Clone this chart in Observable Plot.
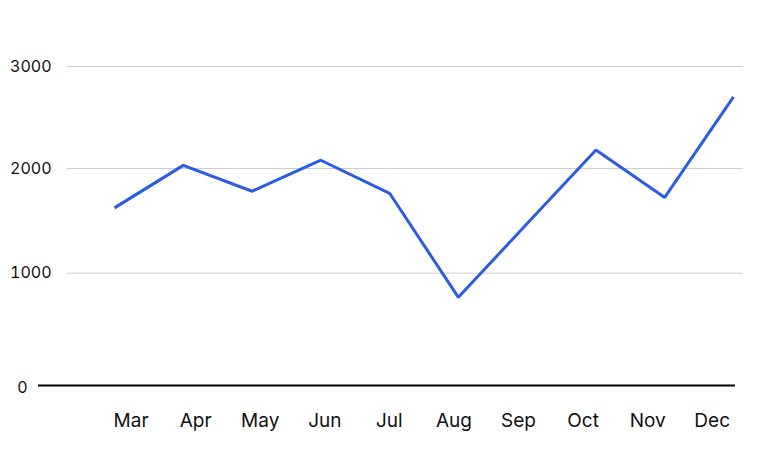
<!DOCTYPE html>
<html>
<head>
<meta charset="utf-8">
<script src="https://cdn.jsdelivr.net/npm/d3@7"></script>
<script src="https://cdn.jsdelivr.net/npm/@observablehq/plot@0.6"></script>
<style>
  html, body { margin: 0; padding: 0; background: #fff; }
  #wrap { position: relative; width: 762px; height: 474px; }
  #labels { position: absolute; left: 0; top: 400px; width: 762px; height: 40px; }
  svg { max-width: none !important; }
</style>
</head>
<body>
<div id="wrap"><div id="main"></div><div id="labels"></div></div>
<script>
const months = ["Mar", "Apr", "May", "Jun", "Jul", "Aug", "Sep", "Oct", "Nov", "Dec"];
const values = [1620, 2030, 1780, 2080, 1760, 775, 1470, 2180, 1720, 2700];
const gridTicks = [1000, 2000, 3000];
const zeroTick = [0];

const data = months.map((m, i) => ({month: m, value: values[i]}));
const font = "Inter, 'Noto Sans', sans-serif";

const main = Plot.plot({
  width: 762,
  height: 474,
  marginLeft: 114,
  marginRight: 29,
  marginTop: 66,
  marginBottom: 89,
  style: {fontFamily: font, fontSize: "16px", color: "#111", background: "transparent", overflow: "visible"},
  x: {type: "point", domain: months, padding: 0, round: false, axis: null},
  y: {type: "pow", exponent: 0.95, domain: [0, 3000], axis: null},
  marks: [
    Plot.ruleY(gridTicks, {stroke: "#cccccc", strokeWidth: 1, insetLeft: -47, insetRight: -10}),
    Plot.axisY({ticks: gridTicks, tickSize: 0, tickPadding: 63, tickFormat: d => String(d), fontSize: 16, fill: "#111", label: null}),
    Plot.axisY({ticks: zeroTick, tickSize: 0, tickPadding: 87, tickFormat: d => String(d), fontSize: 16, fill: "#111", dy: 2, label: null}),
    Plot.line(data, {x: "month", y: "value", stroke: "#2b5ce6", strokeWidth: 3, strokeLinejoin: "miter", strokeLinecap: "butt"}),
    Plot.ruleY(zeroTick, {stroke: "#000", strokeWidth: 2, insetLeft: -76, insetRight: -2})
  ]
});
document.getElementById("main").appendChild(main);

const labels = Plot.plot({
  width: 762,
  height: 40,
  marginLeft: 130.6,
  marginRight: 50.3,
  marginTop: 0,
  marginBottom: 0,
  style: {fontFamily: font, background: "transparent"},
  x: {type: "point", domain: months, padding: 0, round: false, axis: null},
  marks: [
    Plot.text(months, {x: d => d, frameAnchor: "middle", fontSize: 19, fill: "#111"})
  ]
});
document.getElementById("labels").appendChild(labels);
</script>
</body>
</html>
